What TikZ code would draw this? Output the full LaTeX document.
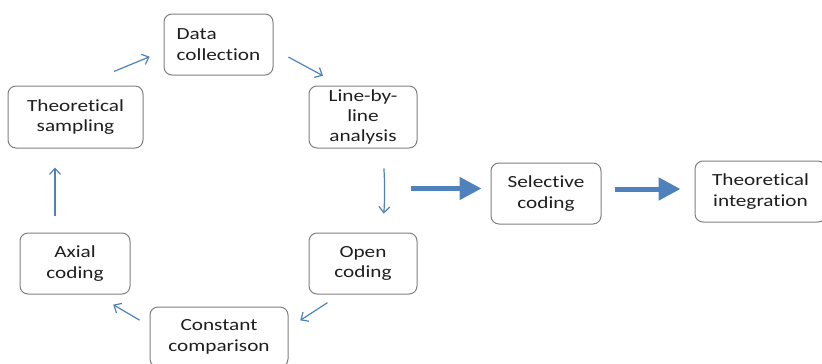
\documentclass[tikz,border=0pt]{standalone}
\usepackage{fontspec}
\setmainfont{Carlito}[FakeStretch=1.25, Ligatures={NoCommon, NoRare, NoDiscretionary}]
\usetikzlibrary{arrows.meta}
\definecolor{arrowblue}{HTML}{4F81BD}
\definecolor{boxgray}{HTML}{7F7F7F}
\definecolor{txt}{HTML}{1E1E1E}
\tikzset{
  stage/.style={draw=boxgray, line width=1pt, rounded corners=8pt, inner sep=0pt,
    align=center, text=txt, font=\fontsize{17}{20.5}\selectfont},
  arr/.style={draw=arrowblue, line width=1.2pt,
    -{Straight Barb[length=6pt, width=11pt, line width=1.2pt]}},
  bigarr/.style={draw=arrowblue, line width=5pt,
    -{Triangle[length=22pt, width=22pt]}}
}
\begin{document}
\begin{tikzpicture}[x=1pt, y=-1pt]
  \useasboundingbox (0,0) rectangle (822,364);
  \clip (0,0) rectangle (822,364);

  % stages of the coding cycle
  \node[stage, minimum width=109pt, minimum height=61pt, align=left] (dc) at (218.5,44.5) {Data\\collection};
  \node[stage, minimum width=135pt, minimum height=62pt] (ts) at (75.5,117) {Theoretical\\sampling};
  \node[stage, minimum width=108pt, minimum height=62pt, font=\fontsize{17}{20}\selectfont] (lbl) at (363,117) {Line-by-\\line\\analysis};
  \node[stage, minimum width=110pt, minimum height=61pt] (ax) at (75,263.5) {Axial\\coding};
  \node[stage, minimum width=108pt, minimum height=61pt] (oc) at (363,263.5) {Open\\coding};
  \node[stage, minimum width=138pt, minimum height=60pt] (cc) at (219,337) {Constant\\comparison};

  % outcome stages
  \node[stage, minimum width=110pt, minimum height=61pt] (sc) at (546,193.5) {Selective\\coding};
  \node[stage, minimum width=131pt, minimum height=61pt] (ti) at (760.5,191.5) {Theoretical\\integration};

  % cycle connectors
  \draw[arr, shorten <=37pt, shorten >=15pt] ([xshift=4.5pt]ts.north) -- ([yshift=-6.5pt]dc.west);
  \draw[arr, shorten <=17pt, shorten >=20.5pt] ([yshift=-4.5pt]dc.east) -- ([xshift=-22pt]lbl.north);
  \draw[arr, shorten <=20pt, shorten >=19pt] ([xshift=19.5pt]lbl.south) to[bend left=4] ([xshift=19.5pt]oc.north);
  \draw[arr, shorten <=15pt, shorten >=14pt] ([xshift=-23pt]oc.south) -- ([yshift=9pt]cc.east);
  \draw[arr, shorten <=11.5pt, shorten >=20pt] ([yshift=11pt]cc.west) -- ([xshift=21pt]ax.south);
  \draw[arr, shorten <=17pt, shorten >=19pt] ([xshift=-20pt]ax.north) -- ([xshift=-20.5pt]ts.south);

  % way out of the cycle
  \coordinate (cycout) at (411,188.5);
  \draw[bigarr, shorten >=9pt] (cycout) -- ([yshift=5pt]sc.west);
  \draw[bigarr, shorten <=13pt, shorten >=14pt] ([yshift=4.5pt]sc.east) -- ([yshift=4.5pt]sc.east -| ti.west);
\end{tikzpicture}
\end{document}
